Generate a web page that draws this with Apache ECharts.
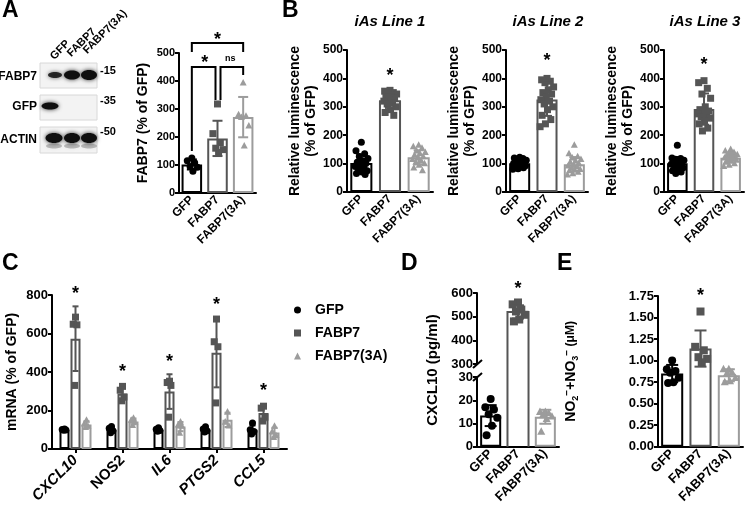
<!DOCTYPE html>
<html><head><meta charset="utf-8">
<script src="https://cdn.jsdelivr.net/npm/echarts@6/dist/echarts.min.js"></script>
<style>html,body{margin:0;padding:0;background:#fff}#main{width:746px;height:506px}</style>
</head><body><div id="main"></div>
<script>
// ================= DATA =================
const GROUPS = ['GFP', 'FABP7', 'FABP7(3A)'];

// Panel A – FABP7 (% of GFP)
const A_TICKS = [0, 100, 200, 300, 400, 500];
const A_MEAN = [102, 195, 271];
const A_SD = [18, 63, 72];
const A_GFP = [125, 115, 108, 95, 92, 78];
const A_FABP7 = [318, 212, 180, 160, 155, 145];
const A_3A = [393, 280, 275, 270, 240, 168];
// significance: [left cat, right cat, bracket level, left leg end, right leg end]
const A_BRACKETS = [[0, 2, 536, 504, 504], [0, 1, 450, 150, 332], [1, 2, 450, 332, 421]];
// annotation text: [left cat, right cat, y]
const A_SIG = [[0, 2, 561], [0, 1, 479], [1, 2, 482]];
const A_SIG_TEXT = ['*', '*', 'ns'];

// Panel B – Relative luminescence (% of GFP)
const B_TICKS = [0, 100, 200, 300, 400, 500];
const B_TITLES = ['iAs Line 1', 'iAs Line 2', 'iAs Line 3'];
const B1_MEAN = [102, 323, 122], B1_SD = [30, 27, 25];
const B1_GFP = [175, 145, 135, 125, 118, 110, 105, 100, 95, 90, 85, 80, 75, 70, 65, 62];
const B1_FABP7 = [358, 355, 350, 348, 345, 340, 335, 330, 325, 320, 315, 310, 300, 290, 280, 270];
const B1_3A = [165, 160, 155, 145, 140, 135, 130, 125, 120, 115, 110, 105, 100, 95, 85, 75];
const B2_MEAN = [101, 326, 98], B2_SD = [12, 58, 25];
const B2_GFP = [122, 120, 118, 115, 112, 110, 108, 105, 103, 100, 98, 95, 92, 90, 88, 85, 82, 80];
const B2_FABP7 = [400, 395, 390, 385, 370, 360, 350, 345, 335, 325, 320, 310, 300, 290, 270, 255, 240, 230];
const B2_3A = [165, 135, 125, 120, 115, 110, 105, 100, 95, 92, 90, 85, 80, 78, 75, 70, 65, 60];
const B3_MEAN = [101, 292, 121], B3_SD = [22, 55, 17];
const B3_GFP = [165, 120, 118, 115, 112, 110, 108, 105, 100, 98, 95, 90, 85, 80, 75, 70, 65];
const B3_FABP7 = [392, 385, 365, 345, 330, 300, 290, 285, 280, 275, 270, 265, 260, 250, 240, 225, 215];
const B3_3A = [150, 145, 140, 135, 132, 130, 128, 125, 122, 120, 118, 115, 112, 110, 105, 100, 95, 90];
const B_STARS = [422, 474, 462];

// Panel C – mRNA (% of GFP)
const C_GENES = ['CXCL10', 'NOS2', 'IL6', 'PTGS2', 'CCL5'];
const C_TICKS = [0, 200, 400, 600, 800];
const C_MEAN_GFP = [100, 100, 100, 100, 100];
const C_SD_GFP = [4, 12, 8, 10, 22];
const C_MEAN_FABP7 = [573, 287, 298, 500, 186];
const C_SD_FABP7 = [168, 33, 90, 180, 38];
const C_MEAN_3A = [127, 143, 116, 151, 85];
const C_SD_3A = [17, 15, 24, 37, 25];
const C_PTS_GFP = [[104, 101, 98, 97], [116, 108, 95, 84], [110, 102, 96, 92], [115, 104, 95, 88], [135, 100, 90, 78]];
const C_PTS_FABP7 = [[685, 648, 645, 330], [325, 305, 270, 250], [352, 345, 330, 165], [675, 557, 531, 239], [222, 212, 165, 145]];
const C_PTS_3A = [[150, 130, 118, 112], [160, 150, 140, 122], [140, 125, 118, 82], [192, 140, 120], [118, 90, 70, 60]];
const C_STARS = [826, 421, 473, 770, 322];

// Panel D – CXCL10 (pg/ml), broken axis
const D_TICKS_HI = [300, 400, 500, 600];
const D_TICKS_LO = [0, 10, 20, 30];
const D_MEAN = [13.4, 520, 12.9];
const D_SD = [4.5, 28, 3];
const D_GFP = [20.5, 17, 16, 14, 12.5, 9, 5];
const D_FABP7 = [560, 552, 530, 522, 508, 488, 480];
const D_3A = [15, 15, 14.5, 14, 13, 12, 6.5];
const D_STAR = 632;

// Panel E – NO2- + NO3- (µM)
const E_TICKS = [0, 0.25, 0.5, 0.75, 1.0, 1.25, 1.5, 1.75];
const E_MEAN = [0.85, 1.14, 0.83];
const E_SD = [0.1, 0.21, 0.07];
const E_GFP = [1.0, 0.9, 0.88, 0.86, 0.8, 0.75, 0.74];
const E_FABP7 = [1.57, 1.16, 1.12, 1.04, 1.02, 0.98];
const E_3A = [0.9, 0.9, 0.86, 0.85, 0.8, 0.76, 0.75];
const E_STAR = 1.79;

// ================= STYLE / HELPERS =================
const FONT = '"Liberation Sans", Arial, Helvetica, sans-serif';
const COL = ['#000000', '#555555', '#9c9c9c'];
const SHAPES = ['circle', 'square', 'triangle'];

function jit(k) { return ((k * 0.618034 + 0.5) % 1) * 2 - 1; }

function shapeEl(shape, cx, cy, s, color) {
  if (shape === 'circle') return { type: 'circle', shape: { cx: cx, cy: cy, r: s / 2 }, style: { fill: color } };
  if (shape === 'square') return { type: 'rect', shape: { x: cx - s / 2, y: cy - s / 2, width: s, height: s }, style: { fill: color } };
  return { type: 'polygon', shape: { points: [[cx, cy - s * 0.55], [cx + s / 2, cy + s * 0.38], [cx - s / 2, cy + s * 0.38]] }, style: { fill: color } };
}

function ptsSeries(ax, g, items, o) {
  return {
    type: 'custom', name: o.name || ('pts' + ax + '_' + g), xAxisIndex: ax, yAxisIndex: ax, z: 4,
    itemStyle: { color: COL[g] }, data: items,
    renderItem: function (p, api) {
      const c = api.coord([api.value(0), api.value(1)]);
      const dx = (o.offset || 0) + jit(api.value(2)) * o.spread;
      return shapeEl(SHAPES[g], c[0] + dx, c[1], o.size, COL[g]);
    }
  };
}
function toItems(cat, arr) { return arr.map(function (v, k) { return [cat, v, k]; }); }

function errSeries(ax, items, cap, offsets) {
  return {
    type: 'custom', xAxisIndex: ax, yAxisIndex: ax, z: 5, data: items,
    renderItem: function (p, api) {
      const c = api.value(0), m = api.value(1), sd = api.value(2), g = api.value(3);
      const t = api.coord([c, m + sd]), b = api.coord([c, m - sd]);
      const x = t[0] + (offsets ? offsets[g] : 0), w = cap / 2;
      const st = { stroke: COL[g], lineWidth: 2 };
      return { type: 'group', children: [
        { type: 'line', shape: { x1: x, y1: t[1], x2: x, y2: b[1] }, style: st },
        { type: 'line', shape: { x1: x - w, y1: t[1], x2: x + w, y2: t[1] }, style: st },
        { type: 'line', shape: { x1: x - w, y1: b[1], x2: x + w, y2: b[1] }, style: st }
      ] };
    }
  };
}

function textSeries(ax, items, texts, fs) {
  return {
    type: 'custom', xAxisIndex: ax, yAxisIndex: ax, z: 6, data: items,
    renderItem: function (p, api) {
      const l = api.coord([api.value(0), api.value(2)]), r = api.coord([api.value(1), api.value(2)]);
      const t = texts[p.dataIndex];
      const size = t === '*' ? fs : 9;
      return { type: 'text', x: (l[0] + r[0]) / 2, y: l[1] + (t === '*' ? size * 0.22 : 0),
        style: { text: t, fill: '#000', fontSize: size, fontWeight: 'bold', fontFamily: FONT,
          align: 'center', verticalAlign: 'middle', textAlign: 'center', textVerticalAlign: 'middle' } };
    }
  };
}
function starSeries(ax, cat, y, fs) {
  return textSeries(ax, [[cat, cat, y]], ['*'], fs);
}

function bracketSeries(ax, items) {
  return {
    type: 'custom', xAxisIndex: ax, yAxisIndex: ax, z: 6, data: items,
    renderItem: function (p, api) {
      const L = api.value(0), R = api.value(1);
      const lt = api.coord([L, api.value(2)]), rt = api.coord([R, api.value(2)]);
      const lb = api.coord([L, api.value(3)]), rb = api.coord([R, api.value(4)]);
      const inL = (R - L === 1 && L === 1) ? 3 : 0, inR = (R - L === 1 && R === 1) ? -2 : 0;
      const xl = lt[0] + inL, xr = rt[0] + inR;
      return { type: 'polyline', shape: { points: [[xl, lb[1]], [xl, lt[1]], [xr, rt[1]], [xr, rb[1]]] },
        style: { stroke: '#000', lineWidth: 2, fill: null } };
    }
  };
}

function barSeries(ax, means, bw) {
  return {
    type: 'bar', xAxisIndex: ax, yAxisIndex: ax, barWidth: bw, z: 2, clip: true,
    itemStyle: { color: '#fff', borderWidth: 2 },
    data: means.map(function (m, g) { return m == null ? '-' : { value: m, itemStyle: { color: '#fff', borderColor: COL[g], borderWidth: 2 } }; })
  };
}

// open-ended bar for a broken axis: sides drawn through the axis break
function brokenBar(ax, cat, value, g, lo, hi, frac, extendTop) {
  return {
    type: 'custom', xAxisIndex: ax, yAxisIndex: ax, z: 2, data: [[cat, value]],
    renderItem: function (p, api) {
      const v = api.value(1);
      const w = api.size([1, 0])[0] * frac / 2;
      const base = api.coord([api.value(0), lo]);
      const x = base[0];
      const st = { stroke: COL[g], lineWidth: 2, fill: null };
      if (v <= hi) {
        const top = api.coord([api.value(0), v]);
        return { type: 'polyline', shape: { points: [[x - w, base[1]], [x - w, top[1]], [x + w, top[1]], [x + w, base[1]]] }, style: st };
      }
      const top = api.coord([api.value(0), hi]);
      const yT = top[1] - extendTop;
      return { type: 'group', children: [
        { type: 'line', shape: { x1: x - w, y1: base[1], x2: x - w, y2: yT }, style: st },
        { type: 'line', shape: { x1: x + w, y1: base[1], x2: x + w, y2: yT }, style: st }
      ] };
    }
  };
}

function yAx(i, ticks, fs, extra) {
  return Object.assign({
    type: 'value', gridIndex: i, min: ticks[0], max: ticks[ticks.length - 1], interval: ticks[1] - ticks[0],
    axisLine: { show: true, lineStyle: { color: '#000', width: 2 } },
    axisTick: { show: true, length: 4, lineStyle: { color: '#000', width: 2 } },
    axisLabel: { fontSize: fs, fontWeight: 'bold', color: '#000', margin: 4, fontFamily: FONT },
    splitLine: { show: false },
    nameTextStyle: { fontSize: 14, fontWeight: 'bold', color: '#000', fontFamily: FONT }
  }, extra || {});
}
function xAx(i, cats, fs, extra) {
  return Object.assign({
    type: 'category', gridIndex: i, data: cats,
    axisLine: { show: true, lineStyle: { color: '#000', width: 2 } }, axisTick: { show: false },
    axisLabel: { rotate: 45, interval: 0, fontSize: fs, fontWeight: 'bold', color: '#000', margin: 5, fontFamily: FONT }
  }, extra || {});
}

function gtext(x, y, text, fs, extra) {
  return Object.assign({ type: 'text', x: x, y: y,
    style: Object.assign({ text: text, fill: '#000', fontSize: fs, fontWeight: 'bold', fontFamily: FONT,
      align: 'left', verticalAlign: 'middle', textAlign: 'left', textVerticalAlign: 'middle' }, (extra && extra.style) || {}) },
    extra ? { rotation: extra.rotation || 0 } : {});
}

// ================= BUILD =================
const grids = [
  { left: 179, top: 53, width: 77, height: 140 },   // 0 A
  { left: 347, top: 50, width: 86, height: 142 },   // 1 B1
  { left: 506, top: 50, width: 82, height: 142 },   // 2 B2
  { left: 664, top: 50, width: 80, height: 142 },   // 3 B3
  { left: 52, top: 295, width: 235, height: 154 },  // 4 C
  { left: 477, top: 293, width: 82, height: 71 },   // 5 D upper
  { left: 477, top: 377, width: 82, height: 71 },   // 6 D lower
  { left: 658, top: 296, width: 85, height: 152 }   // 7 E
];
const D_GAP = grids[6].top - (grids[5].top + grids[5].height);

const bName = 'Relative luminescence\n(% of GFP)';
const bNameStyle = { fontSize: 14, fontWeight: 'bold', lineHeight: 16, color: '#000', fontFamily: FONT };
const xAxes = [
  xAx(0, GROUPS, 12),
  xAx(1, GROUPS, 12), xAx(2, GROUPS, 12), xAx(3, GROUPS, 12),
  xAx(4, C_GENES, 15, {
    axisTick: { show: true, alignWithLabel: true, length: 4, lineStyle: { color: '#000', width: 2 } },
    axisLabel: { rotate: 45, interval: 0, margin: 9, color: '#000',
      formatter: function (v) { return v === 'NOS2' ? '{n|' + v + '}' : '{i|' + v + '}'; },
      rich: { i: { fontSize: 15, fontWeight: 'bold', fontStyle: 'italic', fontFamily: FONT, color: '#000' },
              n: { fontSize: 15, fontWeight: 'bold', fontFamily: FONT, color: '#000' } } } }),
  xAx(5, GROUPS, 13, { show: false }),
  xAx(6, GROUPS, 13),
  xAx(7, GROUPS, 13)
];
const yAxes = [
  yAx(0, A_TICKS, 11, { name: 'FABP7 (% of GFP)', nameLocation: 'middle', nameGap: 29 }),
  yAx(1, B_TICKS, 12, { name: bName, nameLocation: 'middle', nameGap: 26, nameTextStyle: bNameStyle }),
  yAx(2, B_TICKS, 12, { name: bName, nameLocation: 'middle', nameGap: 26, nameTextStyle: bNameStyle }),
  yAx(3, B_TICKS, 12, { name: bName, nameLocation: 'middle', nameGap: 26, nameTextStyle: bNameStyle }),
  yAx(4, C_TICKS, 13, { name: 'mRNA (% of GFP)', nameLocation: 'middle', nameGap: 33 }),
  yAx(5, D_TICKS_HI, 13),
  yAx(6, D_TICKS_LO, 13),
  yAx(7, E_TICKS, 13, {
    axisLabel: { fontSize: 13, fontWeight: 'bold', color: '#000', margin: 4, fontFamily: FONT, formatter: function (v) { return v.toFixed(2); } },
    name: '{m|NO}{s|2}{p|−}{m|+NO}{s|3}{p|−}{u| (μM)}', nameLocation: 'middle', nameGap: 78,
    nameTextStyle: { rich: {
      m: { fontSize: 14, fontWeight: 'bold', fontFamily: FONT, color: '#000', lineHeight: 18 },
      s: { fontSize: 9, fontWeight: 'bold', fontFamily: FONT, color: '#000', lineHeight: 8, verticalAlign: 'bottom' },
      p: { fontSize: 10, fontWeight: 'bold', fontFamily: FONT, color: '#000', lineHeight: 8, verticalAlign: 'top' },
      u: { fontSize: 12, fontWeight: 'bold', fontFamily: FONT, color: '#000', lineHeight: 18 } } } })
];

const series = [];
// ---- A ----
series.push(barSeries(0, A_MEAN, '80%'));
[A_GFP, A_FABP7, A_3A].forEach(function (arr, g) { series.push(ptsSeries(0, g, toItems(g, arr), { size: 7, spread: 6 })); });
series.push(errSeries(0, A_MEAN.map(function (m, g) { return [g, m, A_SD[g], g]; }), 10));
series.push(bracketSeries(0, A_BRACKETS));
series.push(textSeries(0, A_SIG, A_SIG_TEXT, 18));

// ---- B ----
const B_SETS = [[B1_MEAN, B1_SD, B1_GFP, B1_FABP7, B1_3A], [B2_MEAN, B2_SD, B2_GFP, B2_FABP7, B2_3A], [B3_MEAN, B3_SD, B3_GFP, B3_FABP7, B3_3A]];
B_SETS.forEach(function (set, li) {
  const ax = 1 + li;
  series.push(barSeries(ax, set[0], '77%'));
  [set[2], set[3], set[4]].forEach(function (arr, g) { series.push(ptsSeries(ax, g, toItems(g, arr), { size: 7, spread: 7 })); });
  series.push(errSeries(ax, set[0].map(function (m, g) { return [g, m, set[1][g], g]; }), 10));
  series.push(starSeries(ax, 1, B_STARS[li], 18));
});

// ---- C ----
const C_MEANS = [C_MEAN_GFP, C_MEAN_FABP7, C_MEAN_3A];
const C_SDS = [C_SD_GFP, C_SD_FABP7, C_SD_3A];
const C_PTS = [C_PTS_GFP, C_PTS_FABP7, C_PTS_3A];
const C_OFF = [-11, 0, 11];
C_MEANS.forEach(function (means, g) {
  series.push({ type: 'bar', xAxisIndex: 4, yAxisIndex: 4, barWidth: 10, barGap: '10%', z: 2, data: means,
    itemStyle: { color: '#fff', borderColor: COL[g], borderWidth: 2 } });
});
C_PTS.forEach(function (byGene, g) {
  let items = [];
  byGene.forEach(function (arr, gi) { items = items.concat(toItems(gi, arr)); });
  series.push(ptsSeries(4, g, items, { size: 7, spread: 3, offset: C_OFF[g], name: GROUPS[g] }));
});
let cErr = [];
C_MEANS.forEach(function (means, g) { means.forEach(function (m, gi) { cErr.push([gi, m, C_SDS[g][gi], g]); }); });
series.push(errSeries(4, cErr, 6, C_OFF));
series.push(textSeries(4, C_STARS.map(function (y, gi) { return [gi, gi, y]; }), C_STARS.map(function () { return '*'; }), 18));

// ---- D ----
series.push(brokenBar(5, 1, D_MEAN[1], 1, D_TICKS_HI[0], D_TICKS_HI[D_TICKS_HI.length - 1], 0.77, 0));
series.push(brokenBar(6, 1, D_MEAN[1], 1, D_TICKS_LO[0], D_TICKS_LO[D_TICKS_LO.length - 1], 0.77, D_GAP));
series.push(barSeries(6, [D_MEAN[0], null, D_MEAN[2]], '77%'));
series.push(ptsSeries(5, 1, toItems(1, D_FABP7), { size: 8, spread: 7 }));
series.push(ptsSeries(6, 0, toItems(0, D_GFP), { size: 8, spread: 7 }));
series.push(ptsSeries(6, 2, toItems(2, D_3A), { size: 8, spread: 7 }));
series.push(errSeries(5, [[1, D_MEAN[1], D_SD[1], 1]], 12));
series.push(errSeries(6, [[0, D_MEAN[0], D_SD[0], 0], [2, D_MEAN[2], D_SD[2], 2]], 12));
series.push(starSeries(5, 1, D_STAR, 18));

// ---- E ----
series.push(barSeries(7, E_MEAN, '78%'));
[E_GFP, E_FABP7, E_3A].forEach(function (arr, g) { series.push(ptsSeries(7, g, toItems(g, arr), { size: 8, spread: 7 })); });
series.push(errSeries(7, E_MEAN.map(function (m, g) { return [g, m, E_SD[g], g]; }), 12));
series.push(starSeries(7, 1, E_STAR, 18));

// ---- graphics: panel letters, blot, titles, D decorations ----
const G = [];
G.push(gtext(2, 11, 'A', 23));
G.push(gtext(282, 11, 'B', 23));
G.push(gtext(2, 264, 'C', 23));
G.push(gtext(401, 264, 'D', 23));
G.push(gtext(557, 264, 'E', 23));
B_TITLES.forEach(function (t, i) {
  const cx = [390, 548, 705][i];
  G.push(gtext(cx, 22, t, 15, { style: { fontStyle: 'italic', align: 'center', textAlign: 'center' } }));
});
// western blot
[[63, 25], [95, 25], [127, 26]].forEach(function (b) {
  G.push({ type: 'rect', shape: { x: 40, y: b[0], width: 57, height: b[1] }, style: { fill: '#f3f3f3', stroke: '#d8d8d8', lineWidth: 1 } });
});
const bands = [
  [55, 75, 7, 3, 0.85], [72, 75, 8, 4.5, 1], [89, 75, 8, 5, 1],
  [50, 106, 8.5, 3.5, 1],
  [54, 138, 8.5, 5, 1], [72, 138, 8, 5, 1], [89, 138, 8, 5, 1],
  [54, 146, 8, 2.5, 0.25], [72, 146, 8, 2.5, 0.25], [89, 146, 8, 2.5, 0.25]
];
bands.forEach(function (b) {
  G.push({ type: 'ellipse', shape: { cx: b[0], cy: b[1], rx: b[2], ry: b[3] },
    style: { fill: 'rgba(15,15,15,' + b[4] + ')', shadowBlur: 4, shadowColor: 'rgba(0,0,0,' + (0.8 * b[4]) + ')' } });
});
G.push(gtext(37, 77, 'FABP7', 12, { style: { align: 'right', textAlign: 'right' } }));
G.push(gtext(37, 107, 'GFP', 12, { style: { align: 'right', textAlign: 'right' } }));
G.push(gtext(37, 140, 'ACTIN', 12, { style: { align: 'right', textAlign: 'right' } }));
G.push(gtext(100, 71, '-15', 11));
G.push(gtext(100, 101, '-35', 11));
G.push(gtext(100, 132, '-50', 11));
G.push(gtext(52, 58, 'GFP', 11, { rotation: Math.PI / 4 }));
G.push(gtext(69, 55, 'FABP7', 11, { rotation: Math.PI / 4 }));
G.push(gtext(85, 52, 'FABP7(3A)', 11, { rotation: Math.PI / 4 }));
// D axis title and break marks
G.push(gtext(433, 370, 'CXCL10 (pg/ml)', 15, { rotation: Math.PI / 2, style: { align: 'center', textAlign: 'center' } }));
G.push({ type: 'line', shape: { x1: 473, y1: 368, x2: 482, y2: 360 }, style: { stroke: '#000', lineWidth: 2 } });
G.push({ type: 'line', shape: { x1: 473, y1: 381, x2: 482, y2: 373 }, style: { stroke: '#000', lineWidth: 2 } });

const option = {
  animation: false,
  backgroundColor: '#ffffff',
  textStyle: { fontFamily: FONT },
  grid: grids,
  xAxis: xAxes,
  yAxis: yAxes,
  legend: {
    data: [{ name: 'GFP', icon: 'circle' }, { name: 'FABP7', icon: 'rect' }, { name: 'FABP7(3A)', icon: 'triangle' }],
    orient: 'vertical', left: 289, top: 298, itemWidth: 7, itemHeight: 7, itemGap: 9, selectedMode: false,
    textStyle: { fontSize: 14, fontWeight: 'bold', color: '#000', fontFamily: FONT, padding: [0, 0, 0, 9] }
  },
  graphic: { elements: G },
  series: series
};

const chart = echarts.init(document.getElementById('main'), null, { renderer: 'canvas' });
chart.setOption(option);
</script>
</body></html>
